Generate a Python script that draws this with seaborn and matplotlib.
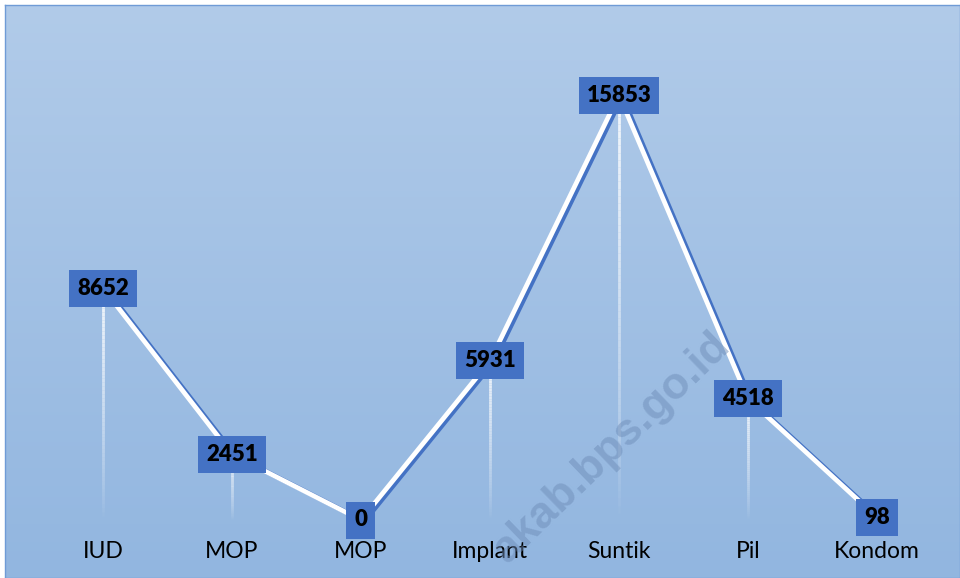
import numpy as np
import matplotlib
matplotlib.use("Agg")
import matplotlib.pyplot as plt
import matplotlib.patheffects as pe
from matplotlib.collections import LineCollection
import seaborn as sns

# data
categories = ['IUD', 'MOP', 'MOP', 'Implant', 'Suntik', 'Pil', 'Kondom']
values = [8652, 2451, 0, 5931, 15853, 4518, 98]
x_pos = list(range(len(categories)))

sns.set_theme(style="white")
plt.rcParams['font.family'] = ['Lato', 'DejaVu Sans']

fig = plt.figure(figsize=(9.6, 5.78), dpi=100)
fig.patch.set_facecolor('white')
ax = fig.add_axes([5/960, 0, 955/960, 573/578])

# scales: IUD at 103px, step 129px; y=0 at 520px, 15853 at 95px
px_per_unit = 425 / 15853
xlim = (-98/129, 857/129)
ylim = (-(578-520)/px_per_unit, (520-5)/px_per_unit)

# gradient background (light top, darker bottom)
grad = np.linspace(0, 1, 256).reshape(-1, 1)
top = np.array([0.694, 0.796, 0.914])
bot = np.array([0.573, 0.714, 0.878])
img = top + (bot - top) * grad[:, :, None]
ax.imshow(img, extent=[xlim[0], xlim[1], ylim[0], ylim[1]], origin='upper',
          aspect='auto', zorder=0)

# fading drop lines
for xi, v in zip(x_pos, values):
    if v <= 0:
        continue
    ys = np.linspace(v, 0, 60)
    segs = [[(xi, ys[i]), (xi, ys[i+1])] for i in range(len(ys)-1)]
    t = np.linspace(0, 1, len(segs))
    alpha = 0.85 * (1 - t) ** 0.8
    cols = [(1, 1, 1, a) for a in alpha]
    ax.add_collection(LineCollection(segs, colors=cols, linewidths=2, zorder=1))

df = {'x': x_pos, 'y': values}
sns.lineplot(x='x', y='y', data=df, ax=ax, color='white', linewidth=3.4, sort=False,
             zorder=3,
             path_effects=[pe.SimpleLineShadow(offset=(2.4, -1.0), shadow_color='#4472C4', alpha=1),
                           pe.Normal()])
ax.set_xlim(*xlim)
ax.set_ylim(*ylim)

# data labels
for xi, v in zip(x_pos, values):
    ax.text(xi, v, str(v), ha='center', va='center', fontsize=16, fontweight='heavy',
            color='black', zorder=5,
            bbox=dict(boxstyle='square,pad=0.36', facecolor='#4472C4', edgecolor='none'))

# category labels
for xi, c in zip(x_pos, categories):
    ax.text(xi, -(551-520)/px_per_unit, c, ha='center', va='center', fontsize=16.5,
            color='black', zorder=5)

ax.set_xticks([])
ax.set_yticks([])
ax.set_xlabel('')
ax.set_ylabel('')
for s in ax.spines.values():
    s.set_color('#6F9BD6')
    s.set_linewidth(1)

# watermark
fig.text(612/960, 1-448/578, 'akab.bps.go.id', rotation=44, ha='center', va='center',
         fontsize=32, fontweight='bold', color='#6E8DB8', alpha=0.5,
         family=['Liberation Sans', 'DejaVu Sans'], zorder=10)

fig.savefig('out.png', dpi=100)
